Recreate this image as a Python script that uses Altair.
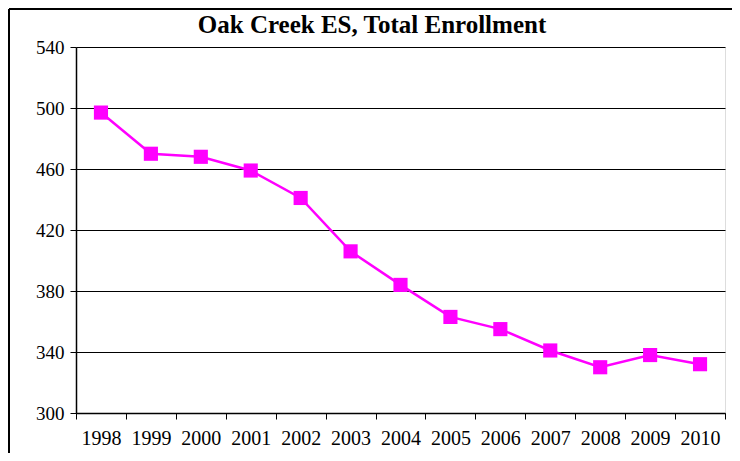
import altair as alt
import pandas as pd

years = ["1998", "1999", "2000", "2001", "2002", "2003", "2004",
         "2005", "2006", "2007", "2008", "2009", "2010"]
enrollment = [497, 470, 468, 459, 441, 406, 384, 363, 355, 341, 330, 338, 332]
y_ticks = [300, 340, 380, 420, 460, 500, 540]
title_text = "Oak Creek ES, Total Enrollment"

df = pd.DataFrame({"year": years, "enrollment": enrollment})
one = pd.DataFrame({"label": [title_text]})

FONT = "'Liberation Serif', 'Times New Roman', serif"

x_enc = alt.X("year:O", title=None, sort=years,
              scale=alt.Scale(type="band", paddingInner=0, paddingOuter=0),
              axis=alt.Axis(labelAngle=0, tickBand="extent", labelFont=FONT,
                            labelFontSize=20, labelColor="#000000", labelPadding=9,
                            tickColor="#000000", tickSize=6, domainColor="#000000",
                            domainWidth=1.5, grid=False))
y_enc = alt.Y("enrollment:Q", title=None,
              scale=alt.Scale(domain=[300, 540], nice=False, zero=False),
              axis=alt.Axis(values=y_ticks, labelFont=FONT, labelFontSize=19,
                            labelColor="#000000", labelPadding=6, tickColor="#000000",
                            tickSize=6, domainColor="#000000", domainWidth=1.5,
                            grid=True, gridColor="#000000", gridWidth=1))

line = alt.Chart(df).mark_line(color="#FF00FF", strokeWidth=2.5).encode(x=x_enc, y=y_enc)
pts = alt.Chart(df).mark_point(shape="square", filled=True, size=200,
                               color="#FF00FF", opacity=1).encode(x=x_enc, y=y_enc)

frame_top = alt.Chart(one).mark_rule(color="#000000", strokeWidth=2, clip=False).encode(
    x=alt.value(-67), x2=alt.value(664), y=alt.value(-38))
frame_left = alt.Chart(one).mark_rule(color="#000000", strokeWidth=2, clip=False).encode(
    x=alt.value(-67), y=alt.value(-38), y2=alt.value(410))
title = alt.Chart(one).mark_text(font=FONT, fontSize=25, fontWeight="bold",
                                 color="#000000", align="center", baseline="alphabetic",
                                 clip=False).encode(
    x=alt.value(296), y=alt.value(-14), text="label:N")

chart = alt.layer(frame_top, frame_left, line, pts, title).properties(
    width=649, height=366,
    padding={"left": 68, "top": 39, "right": 7, "bottom": 40},
    autosize=alt.AutoSizeParams(type="none"),
).configure_view(stroke="#808080", strokeWidth=2).configure(background="white")

chart.save("out.html", embed_options={"renderer": "svg", "actions": False})
